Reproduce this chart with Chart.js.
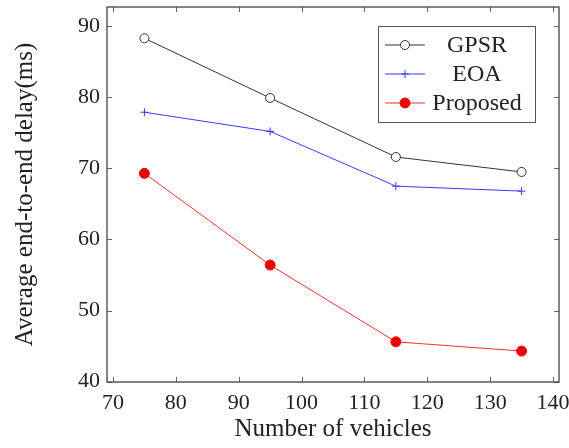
<!DOCTYPE html>
<html><head><meta charset="utf-8">
<script src="https://cdn.jsdelivr.net/npm/chart.js@4/dist/chart.umd.min.js"></script>
<style>html,body{margin:0;padding:0;background:#fff}#wrap{width:569px;height:448px}</style>
</head><body><div id="wrap"><canvas id="c" width="569" height="448"></canvas></div>
<script>
const vehicles = [75, 95, 115, 135];
const gpsr = [88.3, 79.9, 71.6, 69.5];
const eoa = [77.9, 75.2, 67.5, 66.8];
const proposed = [69.3, 56.4, 45.6, 44.3];
const xTicks = [70, 80, 90, 100, 110, 120, 130, 140];
const yTicks = [40, 50, 60, 70, 80, 90];
const seriesNames = ['GPSR', 'EOA', 'Proposed'];

const FONT = "'Liberation Serif', 'DejaVu Serif', serif";
const pts = ys => vehicles.map((x, i) => ({x, y: ys[i]}));

const frame = {
  id: 'frame',
  afterDatasetsDraw(chart) {
    const {ctx, chartArea: a, scales: {x, y}} = chart;
    ctx.save();
    ctx.strokeStyle = '#666';
    ctx.lineWidth = 1;
    const L = 5;
    ctx.beginPath();
    x.ticks.forEach(t => {
      const px = Math.round(x.getPixelForValue(t.value)) + 0.5;
      ctx.moveTo(px, a.bottom); ctx.lineTo(px, a.bottom - L);
      ctx.moveTo(px, a.top); ctx.lineTo(px, a.top + L);
    });
    y.ticks.forEach(t => {
      const py = Math.round(y.getPixelForValue(t.value)) + 0.5;
      ctx.moveTo(a.left, py); ctx.lineTo(a.left + L, py);
      ctx.moveTo(a.right, py); ctx.lineTo(a.right - L, py);
    });
    ctx.stroke();
    ctx.lineWidth = 1.3;
    ctx.strokeStyle = '#444';
    ctx.strokeRect(a.left, a.top, a.right - a.left, a.bottom - a.top);

    // legend
    const bx = a.right - 181, by = a.top + 19, bw = 157, bh = 96;
    ctx.fillStyle = '#fff';
    ctx.fillRect(bx, by, bw, bh);
    ctx.lineWidth = 1;
    ctx.strokeStyle = '#555';
    ctx.strokeRect(bx + 0.5, by + 0.5, bw, bh);
    ctx.font = "24px " + FONT;
    ctx.textAlign = 'center';
    ctx.textBaseline = 'middle';
    chart.data.datasets.forEach((ds, i) => {
      const cy = by + 19 + i * 29;
      ctx.strokeStyle = ds.borderColor;
      ctx.lineWidth = 1;
      ctx.beginPath(); ctx.moveTo(bx + 7, cy); ctx.lineTo(bx + 47, cy); ctx.stroke();
      ctx.save();
      ctx.fillStyle = ds.pointBackgroundColor;
      ctx.strokeStyle = ds.pointBorderColor;
      ctx.lineWidth = 1;
      Chart.helpers.drawPoint(ctx, {pointStyle: ds.pointStyle, radius: ds.pointRadius, borderWidth: 1}, bx + 27, cy);
      ctx.restore();
      ctx.fillStyle = '#222';
      ctx.fillText(ds.label, bx + 99, cy + 1);
    });
    ctx.restore();
  }
};

new Chart(document.getElementById('c'), {
  type: 'line',
  data: {
    datasets: [
      {label: seriesNames[0], data: pts(gpsr), borderColor: '#333', borderWidth: 1,
       pointStyle: 'circle', pointRadius: 4.5, pointBackgroundColor: '#fff', pointBorderColor: '#333', pointBorderWidth: 1},
      {label: seriesNames[1], data: pts(eoa), borderColor: '#3a3aff', borderWidth: 1,
       pointStyle: 'cross', pointRadius: 4, pointBackgroundColor: '#3a3aff', pointBorderColor: '#3a3aff', pointBorderWidth: 1},
      {label: seriesNames[2], data: pts(proposed), borderColor: '#ff3030', borderWidth: 1,
       pointStyle: 'circle', pointRadius: 5, pointBackgroundColor: '#ee0000', pointBorderColor: '#ee0000', pointBorderWidth: 1}
    ]
  },
  options: {
    responsive: false,
    animation: false,
    layout: {padding: {left: 0, right: 10, top: 7, bottom: 0}},
    plugins: {legend: {display: false}, tooltip: {enabled: false}},
    scales: {
      x: {
        type: 'linear', min: 69.05, max: 140.95,
        afterBuildTicks: s => { s.ticks = xTicks.map(v => ({value: v})); },
        afterFit: s => { s.height = 66; s.paddingLeft = 0; s.paddingRight = 0; },
        grid: {display: false, drawTicks: false}, border: {display: false},
        ticks: {color: '#222', padding: 8, font: {family: FONT, size: 22}, maxRotation: 0, autoSkip: false},
        title: {display: true, text: 'Number of vehicles', color: '#222', font: {family: FONT, size: 25}, padding: {top: 0}}
      },
      y: {
        type: 'linear', min: 39.95, max: 92.7,
        afterBuildTicks: s => { s.ticks = yTicks.map(v => ({value: v})); },
        afterFit: s => { s.width = 107; s.paddingTop = 0; s.paddingBottom = 0; },
        grid: {display: false, drawTicks: false}, border: {display: false},
        ticks: {color: '#222', padding: 7, font: {family: FONT, size: 22}, autoSkip: false},
        title: {display: true, text: 'Average end-to-end delay(ms)', color: '#222', font: {family: FONT, size: 25}, padding: {top: 10, bottom: 0}}
      }
    }
  },
  plugins: [frame]
});
</script></body></html>
